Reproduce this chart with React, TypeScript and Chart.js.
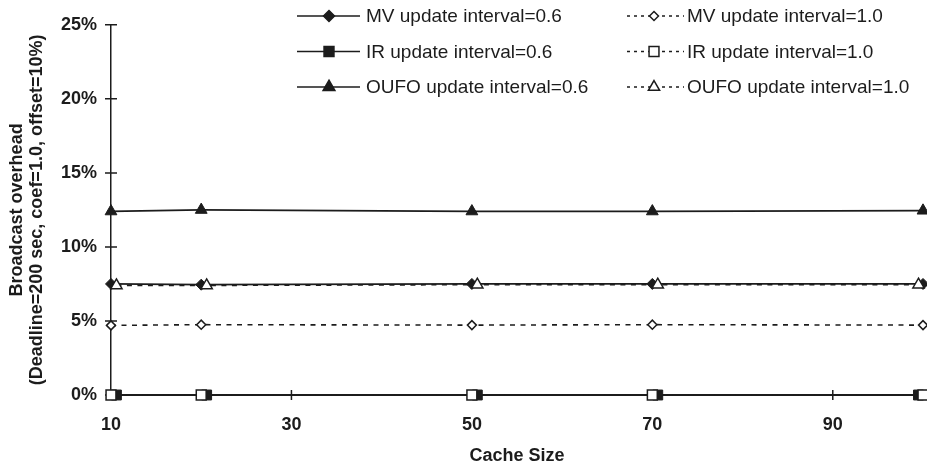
import { useEffect, useRef } from 'react';
import { Chart, registerables } from 'chart.js';

Chart.register(...registerables);

// ---- data ----
const CACHE_SIZES = [10, 20, 50, 70, 100];
// the reference plots two of the series slightly shifted along x
const CACHE_SIZES_SHIFTED = [10.6, 20.6, 50.6, 70.6, 99.5];
const MV_06 = [7.5, 7.45, 7.5, 7.5, 7.5];
const IR_06 = [0, 0, 0, 0, 0];
const OUFO_06 = [12.4, 12.5, 12.4, 12.4, 12.45];
const MV_10 = [4.7, 4.75, 4.72, 4.75, 4.72];
const IR_10 = [0, 0, 0, 0, 0];
const OUFO_10 = [7.4, 7.4, 7.45, 7.45, 7.45];
const X_TICKS = [10, 30, 50, 70, 90];
const SERIES_LABELS = [
  'MV update interval=0.6',
  'IR update interval=0.6',
  'OUFO update interval=0.6',
  'MV update interval=1.0',
  'IR update interval=1.0',
  'OUFO update interval=1.0',
];
const X_TITLE = 'Cache Size';
const Y_TITLE = ['Broadcast overhead', '(Deadline=200 sec, coef=1.0, offset=10%)'];

const INK = '#1c1c1c';
const FONT = '"Liberation Sans", Arial, Helvetica, sans-serif';

const pts = (xs: number[], arr: number[]) => xs.map((x, i) => ({ x, y: arr[i] }));

function drawMarker(ctx: CanvasRenderingContext2D, style: string, r: number, fill: string, x: number, y: number) {
  ctx.save();
  ctx.beginPath();
  if (style === 'rectRot') {
    ctx.moveTo(x, y - r);
    ctx.lineTo(x + r, y);
    ctx.lineTo(x, y + r);
    ctx.lineTo(x - r, y);
    ctx.closePath();
  } else if (style === 'rect') {
    const s = r * Math.SQRT1_2;
    ctx.rect(x - s, y - s, 2 * s, 2 * s);
  } else if (style === 'triangle') {
    let rad = 0;
    ctx.moveTo(x + Math.sin(rad) * r, y - Math.cos(rad) * r);
    rad += (2 * Math.PI) / 3;
    ctx.lineTo(x + Math.sin(rad) * r, y - Math.cos(rad) * r);
    rad += (2 * Math.PI) / 3;
    ctx.lineTo(x + Math.sin(rad) * r, y - Math.cos(rad) * r);
    ctx.closePath();
  }
  ctx.fillStyle = fill;
  ctx.fill();
  ctx.strokeStyle = INK;
  ctx.lineWidth = 1.5;
  ctx.setLineDash([]);
  ctx.stroke();
  ctx.restore();
}

const LEGEND_COLS = [
  { x0: 297, x1: 360, mx: 329, tx: 366, dash: [] as number[] },
  { x0: 627, x1: 684, mx: 654, tx: 687, dash: [3, 4] },
];
const LEGEND_ROWS = [16, 51.5, 87];

const legendPlugin = {
  id: 'customLegend',
  afterDraw(chart: any) {
    const ctx: CanvasRenderingContext2D = chart.ctx;
    chart.data.datasets.forEach((ds: any, i: number) => {
      const col = LEGEND_COLS[i < 3 ? 0 : 1];
      const y = LEGEND_ROWS[i % 3];
      ctx.save();
      ctx.strokeStyle = INK;
      ctx.lineWidth = 1.5;
      ctx.setLineDash(col.dash);
      ctx.beginPath();
      ctx.moveTo(col.x0, y);
      ctx.lineTo(col.x1, y);
      ctx.stroke();
      ctx.restore();
      drawMarker(ctx, ds.pointStyle, ds.pointRadius, ds.pointBackgroundColor, col.mx, y);
      ctx.save();
      ctx.fillStyle = INK;
      ctx.font = `19px ${FONT}`;
      ctx.textAlign = 'left';
      ctx.textBaseline = 'middle';
      ctx.fillText(ds.label, col.tx, y + 1);
      ctx.restore();
    });
  },
};

const crossTicksPlugin = {
  id: 'crossTicks',
  beforeDatasetsDraw(chart: any) {
    const { ctx, scales } = chart;
    const xs = scales.x;
    const ys = scales.y;
    ctx.save();
    ctx.strokeStyle = INK;
    ctx.lineWidth = 1.5;
    ctx.beginPath();
    ys.ticks.forEach((t: any) => {
      const py = ys.getPixelForValue(t.value);
      ctx.moveTo(xs.left - 6, py);
      ctx.lineTo(xs.left + 6, py);
    });
    xs.ticks.forEach((t: any) => {
      const px = xs.getPixelForValue(t.value);
      ctx.moveTo(px, ys.bottom - 5);
      ctx.lineTo(px, ys.bottom + 5);
    });
    ctx.stroke();
    ctx.restore();
  },
};

export default function App() {
  const ref = useRef<HTMLCanvasElement | null>(null);

  useEffect(() => {
    if (!ref.current) return;
    const solid = (label: string, xs: number[], data: number[], style: string, r: number) => ({
      label,
      data: pts(xs, data),
      borderColor: INK,
      borderWidth: 1.8,
      pointStyle: style,
      pointRadius: r,
      pointBackgroundColor: INK,
      pointBorderColor: INK,
      pointBorderWidth: 1,
      showLine: true,
      clip: false as const,
      order: 2,
    });
    const dashed = (label: string, xs: number[], data: number[], style: string, r: number) => ({
      label,
      data: pts(xs, data),
      borderColor: INK,
      borderWidth: 1.6,
      borderDash: [5, 5.5],
      pointStyle: style,
      pointRadius: r,
      pointBackgroundColor: '#ffffff',
      pointBorderColor: INK,
      pointBorderWidth: 1.5,
      showLine: true,
      clip: false as const,
      order: 1,
    });

    const chart = new Chart(ref.current, {
      type: 'line',
      data: {
        datasets: [
          solid(SERIES_LABELS[0], CACHE_SIZES, MV_06, 'rectRot', 5.5),
          solid(SERIES_LABELS[1], CACHE_SIZES_SHIFTED, IR_06, 'rect', 7),
          solid(SERIES_LABELS[2], CACHE_SIZES, OUFO_06, 'triangle', 6.8),
          dashed(SERIES_LABELS[3], CACHE_SIZES, MV_10, 'rectRot', 4.5),
          dashed(SERIES_LABELS[4], CACHE_SIZES, IR_10, 'rect', 7),
          dashed(SERIES_LABELS[5], CACHE_SIZES_SHIFTED, OUFO_10, 'triangle', 6.5),
        ] as any,
      },
      options: {
        responsive: false,
        animation: false,
        devicePixelRatio: 1,
        layout: { autoPadding: false, padding: { top: 16, right: 4, bottom: 0, left: 0 } },
        plugins: { legend: { display: false }, tooltip: { enabled: false } },
        elements: { line: { tension: 0 } },
        scales: {
          x: {
            type: 'linear',
            min: 10,
            max: 100,
            afterFit: (s: any) => { s.height = 72; },
            afterBuildTicks: (s: any) => { s.ticks = X_TICKS.map((v) => ({ value: v })); },
            grid: { display: false, drawTicks: false },
            border: { display: true, color: INK, width: 1.5 },
            ticks: {
              padding: 19,
              color: INK,
              font: { family: FONT, size: 18, weight: 'bold' },
              maxRotation: 0,
              autoSkip: false,
            },
            title: {
              display: true,
              text: X_TITLE,
              color: INK,
              font: { family: FONT, size: 18, weight: 'bold' },
              padding: { top: 0, bottom: 0 },
            },
          },
          y: {
            type: 'linear',
            min: 0,
            max: 25,
            afterFit: (s: any) => { s.width = 111; },
            grid: { display: false, drawTicks: false },
            border: { display: true, color: INK, width: 1.5 },
            ticks: {
              stepSize: 5,
              padding: 14,
              color: INK,
              font: { family: FONT, size: 18, weight: 'bold' },
              callback: (v: any) => `${v}%`,
            },
            title: {
              display: true,
              text: Y_TITLE,
              color: INK,
              font: { family: FONT, size: 18, weight: 'bold', lineHeight: 1.1 },
              padding: { top: 7, bottom: 0 },
            },
          },
        },
      },
      plugins: [crossTicksPlugin, legendPlugin],
    });
    return () => chart.destroy();
  }, []);

  return (
    <div style={{ position: 'fixed', left: 0, top: 0, width: 927, height: 467, background: '#fff' }}>
      <canvas ref={ref} width={927} height={467} />
    </div>
  );
}
